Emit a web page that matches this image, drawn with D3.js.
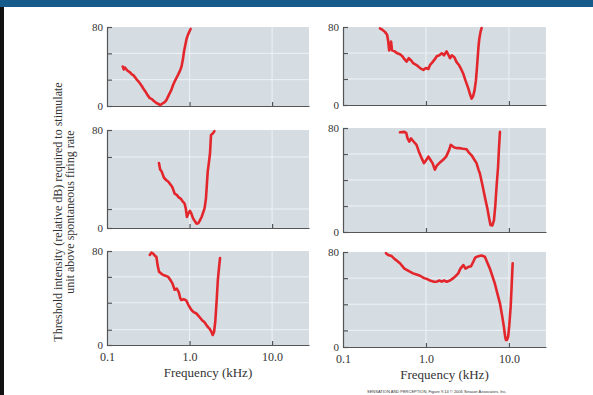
<!DOCTYPE html>
<html>
<head>
<meta charset="utf-8">
<script src="https://cdn.jsdelivr.net/npm/d3@7"></script>
<style>
  body { margin: 0; background: #fff; }
  svg { display: block; }
  text { font-family: "Liberation Serif", "DejaVu Serif", serif; fill: #333; }
</style>
</head>
<body>
<div id="chart"></div>
<script>
// tuning curves: [frequency kHz, threshold dB]
var fiberA = [[0.155,40],[0.16,37],[0.165,39],[0.176,36],[0.19,34],[0.2,32],[0.21,31],[0.228,27],[0.24,25],[0.25,23],[0.265,20],[0.274,18],[0.29,15],[0.31,11],[0.33,8],[0.35,7],[0.37,5],[0.397,3],[0.42,2],[0.444,1],[0.47,2.5],[0.5,4],[0.524,6],[0.56,11],[0.6,16],[0.63,21],[0.67,26],[0.72,31],[0.76,35],[0.8,40],[0.83,47],[0.86,56],[0.89,62],[0.92,68],[0.955,72],[0.99,75],[1.03,78]];
var fiberB = [[0.279,78.6],[0.3,77],[0.32,75],[0.34,72],[0.35,66],[0.36,56],[0.37,60],[0.38,65],[0.39,56],[0.42,55],[0.45,53],[0.486,52],[0.52,50],[0.55,47],[0.585,44.5],[0.62,48],[0.66,46],[0.7,43],[0.77,41],[0.82,39],[0.88,37],[0.93,36],[1.0,38],[1.07,37],[1.12,41],[1.2,44],[1.28,47],[1.35,50],[1.45,51],[1.55,53],[1.65,51],[1.77,55],[1.85,52],[1.95,48],[2.05,51],[2.2,49],[2.34,44],[2.5,41],[2.65,37],[2.82,32],[3.0,25],[3.24,17],[3.4,11],[3.55,6.5],[3.7,9],[3.85,15],[4.0,25],[4.1,36],[4.2,48],[4.3,60],[4.4,68],[4.55,75],[4.69,79]];
var fiberC = [[0.426,53],[0.44,48],[0.46,46],[0.49,41],[0.524,39],[0.55,38],[0.58,36],[0.61,34],[0.63,32],[0.66,28],[0.7,27],[0.74,25],[0.78,24],[0.82,22],[0.87,20],[0.9,16],[0.93,9],[0.97,12],[1.01,14],[1.05,12],[1.1,8],[1.15,6],[1.22,3.5],[1.28,4],[1.34,6.5],[1.4,9],[1.45,12],[1.52,16],[1.58,24],[1.62,35],[1.66,46],[1.72,54],[1.77,61],[1.8,70],[1.82,76],[1.9,77],[2.0,79]];
var fiberD = [[0.486,76.7],[0.55,77],[0.58,76],[0.6,72],[0.63,69.5],[0.66,72],[0.7,70],[0.77,67],[0.82,62],[0.87,58],[0.946,53],[1.0,55],[1.07,58],[1.12,56],[1.2,53],[1.28,48],[1.35,51],[1.45,53],[1.61,55.5],[1.75,58],[1.9,63],[1.99,67],[2.2,65],[2.4,64.5],[2.57,64.5],[2.8,64],[3.09,63.6],[3.3,61],[3.55,59],[3.8,56],[4.07,53],[4.3,48],[4.47,45],[4.8,36],[5.13,27],[5.5,18],[5.8,10],[6.0,5.4],[6.3,5],[6.6,9],[6.85,20],[7.1,35],[7.4,50],[7.6,65],[7.8,77]];
var fiberE = [[0.33,76.6],[0.345,78.6],[0.36,78],[0.38,76],[0.397,75],[0.41,68],[0.427,62.4],[0.45,61],[0.48,59.6],[0.51,59],[0.55,58],[0.59,55],[0.62,52.5],[0.66,47],[0.7,48],[0.74,45],[0.77,40],[0.795,38.3],[0.85,39],[0.91,38],[0.97,34],[1.05,30],[1.12,28],[1.2,27],[1.26,25.5],[1.35,23],[1.42,21],[1.51,19.5],[1.6,17],[1.68,15],[1.74,14],[1.82,12],[1.91,8.5],[1.98,11],[2.05,20],[2.14,40],[2.2,55],[2.27,65],[2.34,74]];
var fiberF = [[0.33,79],[0.35,77.5],[0.386,76.6],[0.42,74],[0.45,72.5],[0.486,70.5],[0.55,66],[0.6,64.5],[0.64,63.4],[0.7,62],[0.77,61],[0.85,60],[0.95,58],[1.05,57],[1.12,56],[1.25,55],[1.35,55],[1.45,56],[1.55,55],[1.65,56],[1.78,55],[1.95,56],[2.14,58],[2.3,60],[2.45,62],[2.6,66],[2.82,69],[3.0,66],[3.3,67.6],[3.5,68],[3.72,71.8],[3.9,75],[4.1,76],[4.4,76.6],[4.68,77],[5.13,76],[5.5,71],[5.9,66],[6.3,60],[6.76,53.6],[7.2,46],[7.8,36.8],[8.3,26],[8.7,17],[9.0,9],[9.2,5.9],[9.5,6],[9.8,8.7],[10.1,18],[10.5,34],[10.8,52],[11.1,70.5]];

// horizontal grid values per panel (as drawn in the figure)
var gridTop = [26.7, 53.3];
var gridMidL = [15.5, 58];
var gridMidR = [20, 40, 60];
var gridBotL = [13, 36, 58];
var gridBotR = [14, 36, 58];

var freqDomain = [0.1, 28];
var dbDomain = [0, 80];
var freqTicks = [0.1, 1, 10];
var freqLabels = ['0.1', '1.0', '10.0'];

var width = 593, height = 395;
var svg = d3.select('#chart').append('svg')
  .attr('width', width).attr('height', height);

svg.append('rect').attr('width', width).attr('height', height).attr('fill', '#fff');
// frame
svg.append('rect').attr('x', 0).attr('y', 0).attr('width', width).attr('height', 7).attr('fill', '#165b8c');
svg.append('rect').attr('x', 0).attr('y', 7).attr('width', 4).attr('height', height - 7).attr('fill', '#111');

// panel placement
var cols = [[107, 309], [343, 546]];
var panels = [
  { data: fiberA, grid: gridTop, col: 0, top: 27, bottom: 106, last: false },
  { data: fiberB, grid: gridTop, col: 1, top: 27, bottom: 105, last: false },
  { data: fiberC, grid: gridMidL, col: 0, top: 130, bottom: 228, last: false },
  { data: fiberD, grid: gridMidR, col: 1, top: 128, bottom: 232, last: false },
  { data: fiberE, grid: gridBotL, col: 0, top: 251, bottom: 345, last: true },
  { data: fiberF, grid: gridBotR, col: 1, top: 252, bottom: 347, last: true }
];

panels.forEach(function(p) {
  var x = d3.scaleLog().domain(freqDomain).range(cols[p.col]);
  var y = d3.scaleLinear().domain(dbDomain).range([p.bottom, p.top]);
  var g = svg.append('g');

  g.append('rect')
    .attr('x', x.range()[0]).attr('y', p.top)
    .attr('width', x.range()[1] - x.range()[0]).attr('height', p.bottom - p.top)
    .attr('fill', '#d5dde3');

  g.selectAll('.hgrid').data(p.grid).enter().append('line')
    .attr('x1', x.range()[0]).attr('x2', x.range()[1])
    .attr('y1', function(d) { return y(d); }).attr('y2', function(d) { return y(d); })
    .attr('stroke', '#eef2f5').attr('stroke-width', 1);

  g.selectAll('.vgrid').data([1, 10]).enter().append('line')
    .attr('x1', function(d) { return x(d); }).attr('x2', function(d) { return x(d); })
    .attr('y1', p.top).attr('y2', p.bottom)
    .attr('stroke', '#eef2f5').attr('stroke-width', 1);

  // y axis
  var yAxis = d3.axisLeft(y)
    .tickValues([0].concat(p.grid, [80]))
    .tickSizeInner(-5).tickSizeOuter(0).tickPadding(4)
    .tickFormat(function(d) { return (d === 0 || d === 80) ? String(d) : ''; });
  var ya = g.append('g').attr('transform', 'translate(' + x.range()[0] + ',0)').call(yAxis);

  // x axis
  var xAxis = d3.axisBottom(x)
    .tickValues(freqTicks)
    .tickSizeInner(-4).tickSizeOuter(0).tickPadding(7)
    .tickFormat(function(d, i) { return p.last ? freqLabels[i] : ''; });
  var xa = g.append('g').attr('transform', 'translate(0,' + p.bottom + ')').call(xAxis);

  [ya, xa].forEach(function(a) {
    a.select('.domain').attr('stroke', '#555').attr('stroke-width', 1.2);
    a.selectAll('.tick line').attr('stroke', '#555').attr('stroke-width', 1.2);
    a.selectAll('.tick text')
      .style('font-family', '"Liberation Serif", serif')
      .attr('fill', '#2a2a2a');
  });
  ya.selectAll('.tick text').style('font-size', '11px');
  xa.selectAll('.tick text').style('font-size', '12px');
  xa.selectAll('.tick').filter(function(d) { return d === 0.1; }).select('line').remove();

  var line = d3.line()
    .x(function(d) { return x(d[0]); })
    .y(function(d) { return y(d[1]); });

  g.append('path')
    .datum(p.data)
    .attr('d', line)
    .attr('fill', 'none')
    .attr('stroke', '#e3262b')
    .attr('stroke-width', 2.6)
    .attr('stroke-linejoin', 'round')
    .attr('stroke-linecap', 'round');

  if (p.last) {
    g.append('text')
      .attr('x', (x.range()[0] + x.range()[1]) / 2)
      .attr('y', p.bottom + 32)
      .attr('text-anchor', 'middle')
      .style('font-size', '13px')
      .text('Frequency (kHz)');
  }
});

// y title
var yt = svg.append('text')
  .attr('transform', 'translate(62,212) rotate(-90)')
  .attr('text-anchor', 'middle')
  .style('font-size', '12px');
yt.append('tspan').attr('x', 0).attr('dy', 0).text('Threshold intensity (relative dB) required to stimulate');
yt.append('tspan').attr('x', 0).attr('dy', 12).text('unit above spontaneous firing rate');

// credit line
svg.append('text')
  .attr('x', 367).attr('y', 393)
  .style('font-family', 'Arial, sans-serif')
  .style('font-size', '4px')
  .attr('fill', '#555')
  .text('SENSATION AND PERCEPTION, Figure 9.14 \u00a9 2006 Sinauer Associates, Inc.');
</script>
</body>
</html>
